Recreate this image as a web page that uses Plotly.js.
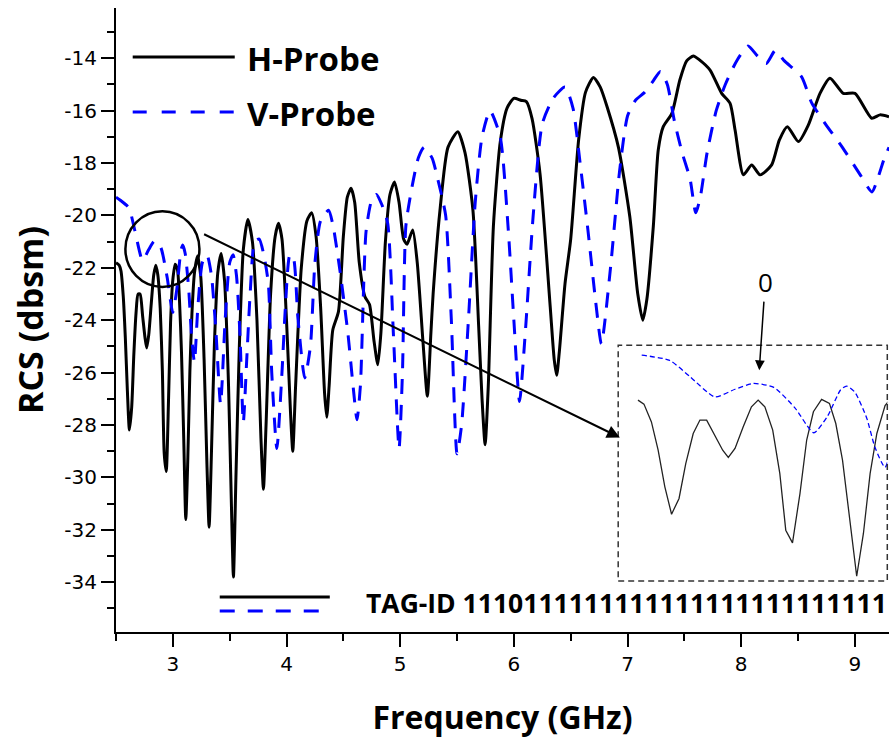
<!DOCTYPE html>
<html>
<head>
<meta charset="utf-8">
<script src="https://cdn.plot.ly/plotly-3.0.1.min.js"></script>
<style>html,body{margin:0;padding:0;background:#fff}#chart{width:889px;height:745px}</style>
</head>
<body>
<div id="chart"></div>
<script>
// ---- data ----
const H_freq = [2.500,2.528,2.544,2.564,2.582,2.600,2.618,2.638,2.656,2.676,2.694,2.712,2.734,2.755,2.770,2.788,2.810,2.832,2.850,2.868,2.889,2.908,2.924,2.942,2.962,2.980,2.998,3.020,3.041,3.058,3.076,3.096,3.114,3.132,3.150,3.168,
3.19,3.217,3.245,3.275,3.30,3.319,3.34,3.365,3.395,3.425,3.455,3.49,3.515,3.533,3.555,3.585,3.62,3.66,3.70,3.74,3.775,3.797,3.82,3.86,3.90,3.929,3.96,4.00,4.035,4.055,4.08,4.13,4.18,4.222,4.26,4.30,4.335,4.354,4.375,4.407,4.457,4.50,4.535,4.568,4.60,4.64,4.69,4.73,4.77,4.803,4.83,4.87,4.91,4.95,4.99,5.03,5.06,5.11,5.15,5.20,5.239,5.27,5.29,5.35,5.42,5.507,5.57,5.64,5.69,5.72,5.747,5.775,5.82,5.88,5.94,6.00,6.06,6.11,6.16,6.23,6.32,6.355,6.377,6.40,6.45,6.50,6.57,6.63,6.70,6.76,6.82,6.92,7.02,7.09,7.134,7.17,7.227,7.27,7.315,7.39,7.46,7.52,7.579,7.63,7.726,7.828,7.902,7.946,8.019,8.092,8.165,8.268,8.335,8.406,8.503,8.59,8.693,8.781,8.898,9.001,9.148,9.221,9.30];
const H_rcs = [-21.80,-21.90,-22.12,-23.10,-24.66,-26.68,-28.19,-27.32,-25.40,-23.74,-23.00,-23.00,-23.83,-24.66,-25.06,-24.56,-23.37,-22.27,-21.90,-22.27,-23.55,-25.94,-29.07,-29.77,-27.05,-24.10,-22.54,-21.86,-22.08,-23.19,-25.21,-28.52,-31.61,-29.25,-25.94,-23.74,
-22.2,-21.55,-22.3,-25.5,-29.5,-31.9,-29.0,-25.0,-22.2,-21.45,-22.5,-26.5,-31.0,-33.8,-30.0,-25.0,-21.3,-20.15,-21.0,-24.0,-28.5,-30.45,-28.0,-23.0,-20.8,-20.3,-20.9,-24.0,-27.5,-29.0,-26.5,-22.0,-20.2,-19.9,-20.8,-23.5,-26.8,-27.7,-26.5,-24.37,-23.67,-20.8,-19.3,-18.96,-19.5,-21.8,-23.1,-23.4,-24.8,-25.7,-24.5,-21.0,-19.2,-18.72,-19.5,-20.9,-21.1,-20.55,-21.8,-24.8,-26.9,-24.5,-22.97,-19.8,-17.4,-16.8,-17.6,-19.8,-24.2,-27.0,-28.75,-26.5,-20.4,-17.2,-15.9,-15.53,-15.6,-15.65,-16.3,-18.4,-23.5,-25.5,-26.1,-25.2,-22.6,-20.9,-17.1,-15.3,-14.73,-15.1,-15.85,-17.4,-20.05,-23.0,-24.0,-23.2,-20.4,-17.5,-16.6,-16.1,-14.83,-14.1,-13.91,-14.05,-14.45,-15.34,-15.72,-16.74,-18.45,-18.07,-18.45,-18.07,-17.12,-16.61,-17.18,-16.55,-15.34,-14.76,-15.34,-15.34,-16.29,-16.16,-16.23];

const V_freq = [2.500,2.538,2.613,2.667,2.734,2.788,2.837,2.892,2.949,2.999,3.036,3.071,3.087,3.109,3.141,3.163,
3.19,3.22,3.26,3.30,3.34,3.38,3.42,3.46,3.50,3.53,3.56,3.59,3.62,3.65,3.68,3.72,3.76,3.80,3.84,3.87,3.915,3.96,3.99,4.03,4.06,4.10,4.16,4.21,4.25,4.30,4.37,4.41,4.47,4.54,4.59,4.62,4.65,4.70,4.75,4.79,4.84,4.89,4.94,4.99,5.02,5.05,5.10,5.16,5.21,5.28,5.33,5.40,5.45,5.50,5.54,5.60,5.66,5.72,5.79,5.88,5.95,6.00,6.05,6.10,6.17,6.25,6.35,6.45,6.52,6.58,6.65,6.72,6.77,6.85,6.93,7.00,7.07,7.15,7.22,7.29,7.35,7.41,7.48,7.55,7.60,7.64,7.70,7.78,7.86,7.96,8.06,8.14,8.22,8.30,8.38,8.53,8.62,8.74,8.89,9.04,9.15,9.20,9.26,9.30];
const V_rcs = [-19.30,-19.42,-19.71,-20.60,-21.72,-21.30,-20.98,-21.20,-22.34,-23.70,-22.78,-21.33,-21.13,-21.46,-22.90,-24.50,
-25.6,-23.5,-21.8,-21.5,-22.3,-24.5,-27.2,-24.0,-21.8,-21.5,-22.3,-24.5,-27.9,-25.5,-23.0,-21.0,-20.9,-21.5,-22.6,-26.0,-28.9,-26.0,-23.5,-21.5,-21.6,-23.9,-26.2,-25.0,-21.8,-20.2,-19.8,-20.4,-22.1,-24.5,-26.7,-27.8,-26.5,-20.6,-19.4,-19.2,-19.6,-20.3,-24.5,-28.9,-26.0,-20.4,-19.0,-17.8,-17.4,-17.8,-18.6,-20.0,-24.0,-29.1,-28.0,-24.0,-19.5,-17.0,-16.0,-17.0,-20.5,-24.0,-27.1,-24.5,-20.0,-16.5,-15.5,-15.1,-15.9,-17.9,-20.5,-23.3,-24.9,-22.0,-18.3,-16.2,-15.6,-15.3,-14.9,-14.5,-15.0,-16.35,-17.6,-18.6,-19.9,-19.3,-17.6,-16.0,-15.0,-14.1,-13.53,-13.9,-14.2,-13.7,-14.1,-14.7,-15.7,-16.5,-17.4,-18.4,-19.1,-18.6,-17.8,-17.4];

const seriesNames = ['H-Probe','V-Probe'];
const xTickVals = [3,4,5,6,7,8,9];
const xTickText = ['3','4','5','6','7','8','9'];
const yTickVals = [-34,-32,-30,-28,-26,-24,-22,-20,-18,-16,-14];
const yTickText = ['-34','-32','-30','-28','-26','-24','-22','-20','-18','-16','-14'];
const tagText = 'TAG-ID 1110111111111111111111111111';
const insetMark = '0';

// ---- helpers: pixel -> paper for decorations ----
const L = 116.3, R = 889, T = 8, B = 631.7;
const px = v => (v - L) / (R - L);
const py = v => (B - v) / (B - T);

const traces = [
  {x: H_freq, y: H_rcs, name: seriesNames[0], mode: 'lines', line: {color: '#000', width: 3, shape: 'spline', smoothing: 0.6}, hoverinfo: 'skip'},
  {x: V_freq, y: V_rcs, name: seriesNames[1], mode: 'lines', line: {color: '#0000ff', width: 3, dash: '15px,11px', shape: 'spline', smoothing: 0.6}, hoverinfo: 'skip'},
  {x: H_freq.slice(1), y: H_rcs.slice(1), xaxis: 'x2', yaxis: 'y2', mode: 'lines', line: {color: '#222', width: 1.3}, hoverinfo: 'skip', showlegend: false},
  {x: V_freq.slice(1), y: V_rcs.slice(1), xaxis: 'x2', yaxis: 'y2', mode: 'lines', line: {color: '#0000ff', width: 1.3, dash: '5px,3px', shape: 'spline', smoothing: 0.6}, hoverinfo: 'skip', showlegend: false}
];

const boldFont = (s) => ({family: 'Open Sans, sans-serif', size: s, color: '#000', weight: 700});
const tickFont = {family: 'DejaVu Sans, sans-serif', size: 20, color: '#000'};

const layout = {
  width: 889, height: 745,
  margin: {l: L, r: 0, t: T, b: 745 - B, pad: 0},
  paper_bgcolor: '#fff', plot_bgcolor: '#fff',
  showlegend: false,
  xaxis: {
    range: [2.5, 9.3], tickmode: 'array', tickvals: xTickVals, ticktext: xTickText,
    showline: true, linecolor: '#000', linewidth: 2, mirror: false,
    ticks: 'outside', ticklen: 13, tickwidth: 2, tickcolor: '#000',
    minor: {ticks: 'outside', ticklen: 7, tickwidth: 2, tickcolor: '#000', dtick: 0.5, tick0: 2.5},
    showgrid: false, zeroline: false,
    tickfont: tickFont,
    title: {text: 'Frequency (GHz)', font: boldFont(32), standoff: 32}
  },
  yaxis: {
    range: [-35.9, -12.08], tickmode: 'array', tickvals: yTickVals, ticktext: yTickText,
    showline: true, linecolor: '#000', linewidth: 2,
    ticks: 'outside', ticklen: 13, tickwidth: 2, tickcolor: '#000',
    minor: {ticks: 'outside', ticklen: 7, tickwidth: 2, tickcolor: '#000', dtick: 1, tick0: -35},
    showgrid: false, zeroline: false,
    tickfont: tickFont,
    title: {text: 'RCS (dbsm)', font: boldFont(34), standoff: 10}
  },
  xaxis2: {domain: [px(618.3), px(887.3)], anchor: 'y2', range: [2.475, 3.196], visible: false},
  yaxis2: {domain: [py(580.7), py(345)], anchor: 'x2', range: [-31.87, -18.87], visible: false},
  shapes: [
    // top legend samples
    {type: 'line', xref: 'paper', yref: 'paper', x0: px(133), x1: px(235), y0: py(57), y1: py(57), line: {color: '#000', width: 3}},
    {type: 'line', xref: 'paper', yref: 'paper', x0: px(133), x1: px(235), y0: py(112), y1: py(112), line: {color: '#0000ff', width: 3, dash: '14px,15px'}},
    // bottom legend samples
    {type: 'line', xref: 'paper', yref: 'paper', x0: px(220), x1: px(330), y0: py(596.7), y1: py(596.7), line: {color: '#000', width: 3}},
    {type: 'line', xref: 'paper', yref: 'paper', x0: px(220), x1: px(330), y0: py(610.7), y1: py(610.7), line: {color: '#0000ff', width: 3, dash: '15px,13px'}},
    // circle around zoomed region
    {type: 'circle', xref: 'paper', yref: 'paper', x0: px(125.7), x1: px(199.7), y0: py(286.8), y1: py(211.2), line: {color: '#000', width: 2.5}},
    // inset box
    {type: 'rect', xref: 'paper', yref: 'paper', x0: px(618.3), x1: px(887.3), y0: py(580.7), y1: py(345), line: {color: '#333', width: 1.5, dash: '6px,4px'}}
  ],
  annotations: [
    {xref: 'paper', yref: 'paper', x: px(245), y: py(58), xanchor: 'left', yanchor: 'middle', text: seriesNames[0], showarrow: false, font: boldFont(33)},
    {xref: 'paper', yref: 'paper', x: px(245), y: py(113), xanchor: 'left', yanchor: 'middle', text: seriesNames[1], showarrow: false, font: boldFont(33)},
    {xref: 'paper', yref: 'paper', x: px(364), y: py(603), xanchor: 'left', yanchor: 'middle', text: tagText, showarrow: false, font: boldFont(26.5)},
    // arrow from circle to inset
    {xref: 'paper', yref: 'paper', x: px(620), y: py(437.3), ax: 202.7 - 620, ay: 233.3 - 437.3, text: '', showarrow: true, arrowhead: 2, arrowsize: 1.3, arrowwidth: 2, arrowcolor: '#000', standoff: 0},
    // "0" marker in inset
    {xref: 'paper', yref: 'paper', x: px(759.3), y: py(370), ax: 6, ay: -88, text: insetMark, showarrow: true, arrowhead: 2, arrowsize: 1.3, arrowwidth: 1.5, arrowcolor: '#000', font: {family: 'Open Sans, sans-serif', size: 26, color: '#000'}}
  ]
};

Plotly.newPlot('chart', traces, layout, {staticPlot: true, displayModeBar: false});
</script>
</body>
</html>
